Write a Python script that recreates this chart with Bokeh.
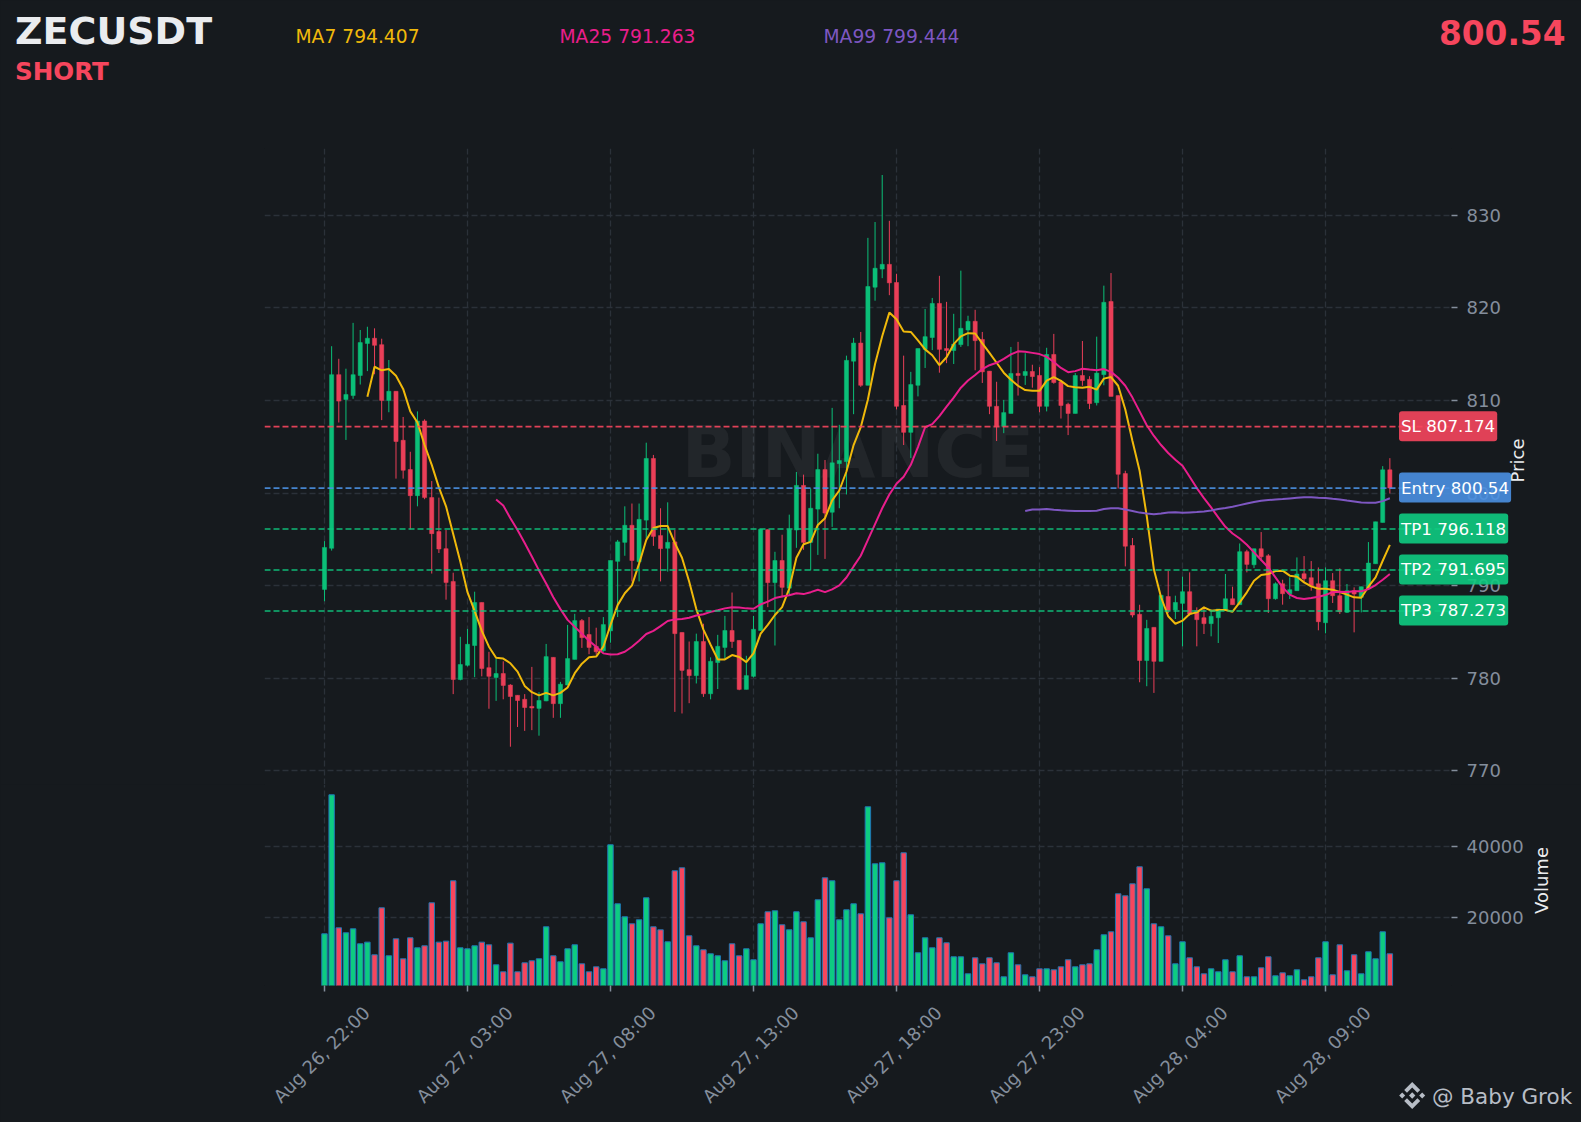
from bokeh.plotting import figure
from bokeh.layouts import column
from bokeh.models import (ColumnDataSource, FixedTicker, GridBox, Label, Range1d, Span,
                          PolyAnnotation, CustomJS)
from bokeh.io import curdoc
from bokeh.embed import file_html
from bokeh.resources import INLINE

open_ = [789.60,794.04,812.79,810.10,810.53,812.70,816.16,816.72,816.03,810.01,
810.99,805.70,802.54,799.72,807.79,799.51,795.84,794.00,790.46,779.87,
781.40,783.54,788.19,781.15,780.08,780.51,779.27,778.16,777.73,776.96,
776.75,777.56,782.26,777.26,779.27,782.04,786.23,784.73,783.45,782.98,
785.12,792.63,794.68,796.52,792.59,797.08,803.74,795.41,794.04,794.73,
784.95,780.93,780.29,783.97,778.33,781.70,783.33,785.16,784.09,778.80,
780.21,785.16,796.05,790.33,792.72,789.73,796.01,800.83,794.68,798.27,
802.54,797.93,803.18,803.40,814.24,816.20,811.64,822.23,824.19,824.70,
822.74,809.46,806.56,811.64,815.52,816.80,820.48,815.61,815.39,816.03,
817.61,818.55,816.59,813.17,809.37,807.20,808.60,812.92,812.70,813.13,
812.70,809.37,814.97,812.02,809.59,808.60,812.70,812.28,809.76,812.79,
820.69,810.53,802.11,794.34,786.91,781.92,785.50,781.83,788.83,787.38,
788.09,789.35,787.30,786.54,785.90,786.54,787.41,788.59,787.95,793.67,
792.26,793.99,793.23,788.59,790.21,789.13,789.46,791.29,790.86,790.21,
786.00,790.54,788.92,787.12,789.46,788.74,789.74,792.37,796.83,802.51]
close = [794.13,812.79,809.93,810.65,812.79,816.25,816.72,815.95,810.01,810.99,
805.57,802.46,799.72,807.79,799.51,795.62,793.96,790.33,779.87,781.49,
783.67,788.19,781.06,780.21,780.51,779.23,778.03,777.60,776.84,776.79,
777.60,782.34,777.26,779.36,782.13,786.23,784.39,783.33,782.86,785.80,
792.72,794.73,796.52,792.72,797.16,803.74,795.32,794.00,794.68,784.82,
780.85,780.29,783.97,778.33,781.83,783.45,785.16,783.97,778.80,780.29,
785.29,796.09,790.33,792.72,789.82,796.05,800.83,794.68,798.36,802.54,
797.84,803.27,803.52,814.33,816.20,811.64,822.31,824.28,824.70,822.70,
809.37,806.56,811.72,815.61,816.89,820.48,815.52,815.39,816.08,817.79,
818.55,816.46,813.09,809.37,807.20,808.69,812.92,812.70,813.13,812.58,
809.37,814.97,811.94,809.46,808.60,812.70,812.15,809.67,812.96,820.60,
810.44,802.03,794.26,786.83,781.92,785.38,781.83,788.96,787.34,788.19,
789.35,786.94,786.33,785.90,786.69,787.48,788.59,787.95,793.67,792.30,
793.99,793.12,788.59,790.21,789.13,789.57,791.26,790.75,789.98,786.11,
790.54,788.92,787.19,789.46,789.10,789.89,792.44,796.90,802.51,800.54]
high = [794.81,815.86,814.50,813.43,818.38,817.61,817.96,817.79,816.67,814.37,
810.99,808.22,804.46,808.82,807.96,801.30,799.51,796.01,791.40,784.48,
785.33,789.35,788.19,782.86,782.13,781.83,779.36,778.16,778.29,781.23,
778.50,783.71,782.26,779.61,785.76,786.96,786.40,786.61,785.46,786.61,
792.72,794.94,798.57,798.87,798.87,805.44,804.12,798.36,799.00,796.01,
784.95,783.97,784.82,785.89,782.26,784.69,786.74,789.26,784.09,782.43,
786.74,796.09,796.09,793.66,795.50,797.67,802.28,801.99,800.49,804.25,
803.57,809.20,807.37,814.84,816.76,817.40,827.56,829.27,834.35,829.40,
823.68,814.84,813.09,815.61,819.88,821.07,823.46,820.65,819.36,824.02,
819.15,819.79,817.40,813.17,812.02,810.06,815.78,816.33,815.10,813.86,
813.60,815.69,817.19,812.23,809.76,812.96,816.42,812.62,816.89,822.40,
823.76,810.53,802.41,795.15,787.94,786.31,785.50,788.96,791.61,788.92,
790.97,791.44,787.66,787.73,787.44,787.48,791.26,789.89,794.56,793.88,
793.99,795.79,793.41,790.36,790.64,790.90,793.05,793.20,792.66,791.97,
791.97,791.36,791.87,790.18,789.82,789.89,794.71,796.90,802.91,803.77]
low = [788.32,793.79,807.62,805.74,810.18,811.72,813.17,812.83,807.88,808.73,
801.56,801.56,796.09,798.57,799.34,791.31,793.53,788.49,778.29,779.78,
781.28,780.12,780.21,776.71,777.56,777.73,772.61,774.74,774.32,774.40,
773.80,777.52,775.73,775.73,779.27,782.04,783.28,782.60,782.56,782.86,
783.84,786.61,793.23,790.46,790.46,795.07,794.30,790.46,791.52,776.37,
776.20,777.31,779.44,777.99,777.73,778.84,782.09,783.28,778.71,778.80,
780.08,785.16,787.68,783.54,788.75,788.96,794.09,793.87,791.65,793.32,
792.89,796.35,798.36,799.85,808.52,811.47,811.64,820.77,823.21,821.37,
809.03,805.19,803.78,810.44,813.51,815.44,813.00,814.03,813.94,815.78,
815.86,813.26,811.89,808.52,805.62,806.47,808.60,810.53,811.68,811.38,
808.73,808.82,811.81,808.05,806.26,808.60,811.59,809.07,809.46,811.64,
810.44,800.49,792.08,786.57,779.57,779.14,778.42,781.83,787.04,786.40,
783.45,786.76,783.45,784.78,784.53,783.81,787.30,787.95,787.95,791.44,
791.90,792.69,787.05,788.49,787.95,788.56,789.46,790.36,789.46,785.18,
784.85,788.13,786.94,787.05,784.96,787.12,789.64,792.37,796.83,799.96]
volume = [15283,54623,16981,15566,16698,12453,12925,9340,22642,9057,
13868,8208,14151,11321,11887,24057,12925,13208,30283,11321,
11038,11887,12925,12170,6509,4528,12642,4528,7075,7642,
8208,17264,9057,7358,11038,12170,6792,4528,5943,5377,
40472,23774,20094,18113,19245,25472,17264,16415,13019,33113,
33962,14717,11887,10755,9623,9057,7642,12453,9057,11038,
7925,18113,21509,21792,17830,16415,21509,18679,14151,24906,
31132,30283,19245,22075,23774,20943,51226,35094,35377,19811,
30283,38208,20660,9906,14151,11321,14151,12736,8774,8774,
3962,8491,6792,8491,7075,3113,9906,6509,3679,3113,
5377,5377,5094,5943,7925,5943,6509,6792,10755,15000,
15849,26604,26038,29434,34245,28019,18113,17264,14717,6792,
13019,8491,5943,3962,5377,4528,7925,4528,9057,3113,
3113,5660,8774,3396,4245,3396,5094,2264,3113,8491,
13019,3679,12170,4811,9340,3962,10189,8208,15849,9623]
ma7_start = 6
ma7 = [810.40,813.64,813.26,813.39,
812.66,811.25,808.82,807.62,805.19,803.05,800.62,798.57,795.58,792.59,
789.30,787.25,785.12,783.41,782.22,782.13,781.62,780.72,779.18,778.50,
778.16,778.42,778.16,778.42,779.01,780.55,781.58,782.26,782.34,783.41,
785.76,787.90,789.18,790.03,792.38,794.94,796.22,796.44,796.44,794.60,
793.02,790.46,787.47,785.25,783.62,782.04,782.04,782.51,782.30,781.75,
782.69,784.82,785.76,786.83,787.68,789.69,793.02,794.47,794.73,796.56,
797.29,799.21,800.28,802.33,805.19,807.11,810.10,813.94,816.93,819.49,
818.77,817.44,817.40,816.50,815.52,814.88,813.81,814.67,816.08,816.93,
817.27,817.23,816.16,815.14,814.07,813.00,812.23,811.59,811.12,811.04,
811.04,812.15,812.53,812.11,811.55,811.42,811.38,811.47,811.17,812.36,
812.53,811.59,809.03,805.62,802.41,797.50,791.74,788.75,786.70,785.89,
786.22,786.94,787.12,787.66,787.30,787.37,787.37,787.19,788.20,789.28,
790.54,791.15,791.26,791.58,791.62,791.08,790.97,790.36,789.92,789.67,
789.67,789.56,789.31,789.03,788.74,788.70,789.89,790.90,792.69,794.41]
ma25_start = 24
ma25 = [799.30,798.66,797.29,796.01,794.60,793.15,
791.65,790.24,788.75,787.47,786.31,785.55,784.82,784.05,783.41,782.69,
782.56,782.60,782.86,783.41,784.05,784.78,785.12,785.63,786.19,786.36,
786.40,786.53,786.78,786.91,787.17,787.34,787.55,787.68,787.64,787.55,
787.51,787.98,788.28,788.66,788.83,788.96,789.18,789.09,789.30,789.56,
789.30,789.60,790.03,790.88,792.08,793.23,794.94,796.65,798.36,799.85,
801.00,801.77,803.05,804.97,807.11,807.45,808.31,809.33,810.31,811.38,
812.15,812.75,813.39,813.81,814.07,814.50,814.97,815.31,815.27,815.14,
815.01,814.71,814.16,813.51,813.05,813.17,813.43,813.34,813.26,813.39,
813.09,812.45,811.59,810.31,808.82,807.32,806.17,805.19,804.33,803.61,
802.95,801.76,800.54,799.46,798.45,797.37,796.36,795.64,795.10,794.42,
793.60,792.77,791.97,790.90,789.82,789.03,788.67,788.56,788.67,788.81,
788.99,789.31,789.35,789.31,789.39,789.39,789.64,790.07,790.64,791.26]
ma99_start = 98
ma99 = [798.06,798.23,
798.23,798.27,798.19,798.14,798.10,798.06,798.06,798.06,798.10,798.27,
798.36,798.36,798.23,798.06,797.89,797.80,797.72,797.80,797.89,797.93,
797.87,797.91,797.95,798.02,798.13,798.27,798.38,798.52,798.70,798.88,
799.03,799.17,799.24,799.31,799.35,799.42,799.49,799.56,799.56,799.49,
799.46,799.38,799.31,799.20,799.10,798.99,798.95,798.95,799.13,799.44]

tick_positions = [0, 20, 40, 60, 80, 100, 120, 140]
tick_labels = ["Aug 26, 22:00", "Aug 27, 03:00", "Aug 27, 08:00", "Aug 27, 13:00",
               "Aug 27, 18:00", "Aug 27, 23:00", "Aug 28, 04:00", "Aug 28, 09:00"]
price_ticks = [770, 780, 790, 800, 810, 820, 830]
volume_ticks = [20000, 40000]
symbol = "ZECUSDT"
side = "SHORT"
last_price = 800.54
ma_labels = ["MA7 794.407", "MA25 791.263", "MA99 799.444"]
levels = [("SL", 807.174), ("Entry", 800.54), ("TP1", 796.118), ("TP2", 791.695), ("TP3", 787.273)]

# style
BG = "#161A1E"; GRID = "#2B3139"; MUTED = "#848E9C"; TEXT = "#EAECEF"
UP = "#0ECB81"; DOWN = "#F6465D"; UP_C = "#0BBF78"; DOWN_C = "#EA3F58"
YEL = "#F0B90B"; PINK = "#E91E8C"; PURP = "#7E57C2"; BLUE = "#4A90E2"
FONT = "DejaVu Sans"

# frame in page pixels
L, R, T, SPLIT, B = 264.0, 1451.0, 148.0, 784.0, 985.0
PAGE_W, PAGE_H = 1581, 1122
xr = (-8.39, 157.62)
pr = (768.53, 837.21)
vr = (650, 57535)

def tick_px(t): return L + (t - xr[0]) / (xr[1] - xr[0]) * (R - L)
def val_px(v): return T + (pr[1] - v) / (pr[1] - pr[0]) * (SPLIT - T)

n = len(close)
idx = list(range(n))
colors_c = [UP_C if c >= o else DOWN_C for o, c in zip(open_, close)]
colors_v = [UP if c >= o else DOWN for o, c in zip(open_, close)]
src = ColumnDataSource(dict(x=idx, o=open_, c=close, h=high, l=low, v=volume,
                            cc=colors_c, cv=colors_v,
                            top=[max(a, b) for a, b in zip(open_, close)],
                            bot=[min(a, b) for a, b in zip(open_, close)]))

def base(p):
    p.background_fill_color = BG
    p.border_fill_color = BG
    p.outline_line_color = None

x_range = Range1d(*xr)
p1 = figure(width=PAGE_W, height=int(SPLIT), x_range=x_range, y_range=Range1d(*pr),
            output_backend="svg", toolbar_location=None, tools="",
            x_axis_location="below", y_axis_location="right",
            min_border_left=int(L), min_border_right=int(PAGE_W - R),
            min_border_top=int(T), min_border_bottom=0)
p2 = figure(width=PAGE_W, height=int(PAGE_H - SPLIT), x_range=x_range, y_range=Range1d(*vr),
            output_backend="svg", toolbar_location=None, tools="",
            x_axis_location="below", y_axis_location="right",
            min_border_left=int(L), min_border_right=int(PAGE_W - R),
            min_border_top=0, min_border_bottom=int(PAGE_H - B))
base(p1); base(p2)

for p, ticks in ((p1, price_ticks), (p2, volume_ticks)):
    ax = p.yaxis[0]
    ax.ticker = FixedTicker(ticks=ticks)
    ax.axis_line_color = None
    ax.major_tick_in = 0; ax.major_tick_out = 6
    ax.minor_tick_line_color = None
    ax.major_tick_line_color = MUTED; ax.major_tick_line_width = 1.5
    ax.major_label_text_color = MUTED
    ax.major_label_text_font = FONT; ax.major_label_text_font_size = "18px"
    ax.major_label_standoff = 9
    g = p.ygrid[0]
    g.grid_line_color = GRID; g.grid_line_dash = "6 3"; g.grid_line_width = 1.3
    xa = p.xaxis[0]
    xa.ticker = FixedTicker(ticks=tick_positions)
    gx = p.xgrid[0]
    gx.grid_line_color = GRID; gx.grid_line_dash = "6 3"; gx.grid_line_width = 1.3

p1.xaxis[0].visible = False
xa = p2.xaxis[0]
xa.major_label_overrides = dict(zip(tick_positions, [""] * len(tick_positions)))
xa.axis_line_color = None
xa.major_tick_in = 0; xa.major_tick_out = 6
xa.minor_tick_line_color = None
xa.major_tick_line_color = MUTED; xa.major_tick_line_width = 1.5

# watermark
p1.add_layout(Label(x=sum(xr) / 2, y=804.3, text="BINANCE", text_font=FONT, text_font_style="bold",
                    text_font_size="70.5px", text_color="#FFFFFF", text_alpha=0.055,
                    text_align="center", text_baseline="middle", level="underlay"))

# candles
p1.segment("x", "l", "x", "h", source=src, line_color="cc", line_width=1)
p1.vbar("x", 0.58, "bot", "top", source=src, fill_color="cc", line_color="cc", line_width=0.5)

# moving averages
p1.line(list(range(ma7_start, ma7_start + len(ma7))), ma7, line_color=YEL, line_width=2)
p1.line(list(range(ma25_start, ma25_start + len(ma25))), ma25, line_color=PINK, line_width=2)
p1.line(list(range(ma99_start, ma99_start + len(ma99))), ma99, line_color=PURP, line_width=2)

# volume
p2.vbar("x", 0.76, 0, "v", source=src, fill_color="cv", line_color="#1F77B4", line_width=1)

# level lines
lv_line = {"SL": DOWN, "Entry": BLUE, "TP1": UP, "TP2": UP, "TP3": UP}
lv_fill = {"SL": "#F6465D", "Entry": "#4A90E2", "TP1": "#0ECB81", "TP2": "#0ECB81", "TP3": "#0ECB81"}
for name, val in levels:
    p1.add_layout(Span(location=val, dimension="width", line_color=lv_line[name],
                       line_dash="6 3", line_width=1.6, line_alpha=0.9))

# transparent page-sized layer for the texts that lie outside the plot frames
ov = figure(width=PAGE_W, height=PAGE_H, x_range=Range1d(0, PAGE_W), y_range=Range1d(PAGE_H, 0),
            output_backend="svg", toolbar_location=None, tools="",
            x_axis_location=None, y_axis_location=None,
            min_border=0, min_border_left=0, min_border_right=0, min_border_top=0, min_border_bottom=0)
ov.center = []
ov.background_fill_color = None
ov.border_fill_color = None
ov.outline_line_color = None
for f in (p1, p2, ov):
    if "frame_align" in f.properties():
        f.frame_align = False

def put(x, y, text, color, size, bold=False, align="left", baseline="alphabetic", angle=0):
    ov.add_layout(Label(x=x, y=y, text=text, text_color=color, text_font=FONT,
                        text_font_size=size, text_font_style="bold" if bold else "normal",
                        text_align=align, text_baseline=baseline,
                        angle=angle, angle_units="deg"))

for name, val in levels:
    txt = f"{name} {val:.2f}" if name == "Entry" else f"{name} {val:.3f}"
    ov.add_layout(Label(x=1398.5, y=val_px(val) - 0.5, text=txt, text_color="#FFFFFF", text_font=FONT,
                        text_font_size="16.7px", text_align="left", text_baseline="middle",
                        background_fill_color=lv_fill[name], background_fill_alpha=0.9,
                        border_radius=3, padding=(2, 5)))

for t, lab in zip(tick_positions, tick_labels):
    put(tick_px(t) - 3, 1054, lab, MUTED, "18px", align="center", baseline="middle", angle=45)

put(1517, 460, "Price", TEXT, "18px", align="center", baseline="middle", angle=90)
put(1541, 880, "Volume", TEXT, "18px", align="center", baseline="middle", angle=90)

put(14.5, 30.5, symbol, TEXT, "38px", True)
put(14.5, 71, side, DOWN, "24.6px", True)
put(295, 36, ma_labels[0], YEL, "18.7px")
put(559, 36, ma_labels[1], PINK, "18.7px")
put(823, 36, ma_labels[2], PURP, "18.7px")
put(1565, 31.5, f"{last_price:.2f}", DOWN, "32.8px", True, "right")

put(1431.5, 1096, "@ Baby Grok", "#B7BDC6", "21.5px")
cx, cy = 1411.7, 1095.0
shapes = [
    [(0, -3.2), (3.2, 0), (0, 3.2), (-3.2, 0)],
    [(-10, -3), (-7, 0), (-10, 3), (-13, 0)],
    [(10, -3), (13, 0), (10, 3), (7, 0)],
    [(0, -13.5), (8, -5.5), (5.2, -2.8), (0, -8), (-5.2, -2.8), (-8, -5.5)],
    [(0, 13.5), (8, 5.5), (5.2, 2.8), (0, 8), (-5.2, 2.8), (-8, 5.5)],
]
for s in shapes:
    ov.add_layout(PolyAnnotation(xs=[cx + a for a, b in s], ys=[cy + b for a, b in s],
                                 fill_color="#B7BDC6", fill_alpha=1, line_color=None))

page = GridBox(children=[(column(p1, p2, spacing=0), 0, 0), (column(ov), 0, 0)], spacing=0)
doc = curdoc()
doc.add_root(page)
doc.js_on_event("document_ready", CustomJS(code=f"document.documentElement.style.background='{BG}';document.body.style.background='{BG}';"))

open("out.html", "w").write(file_html(page, INLINE))
